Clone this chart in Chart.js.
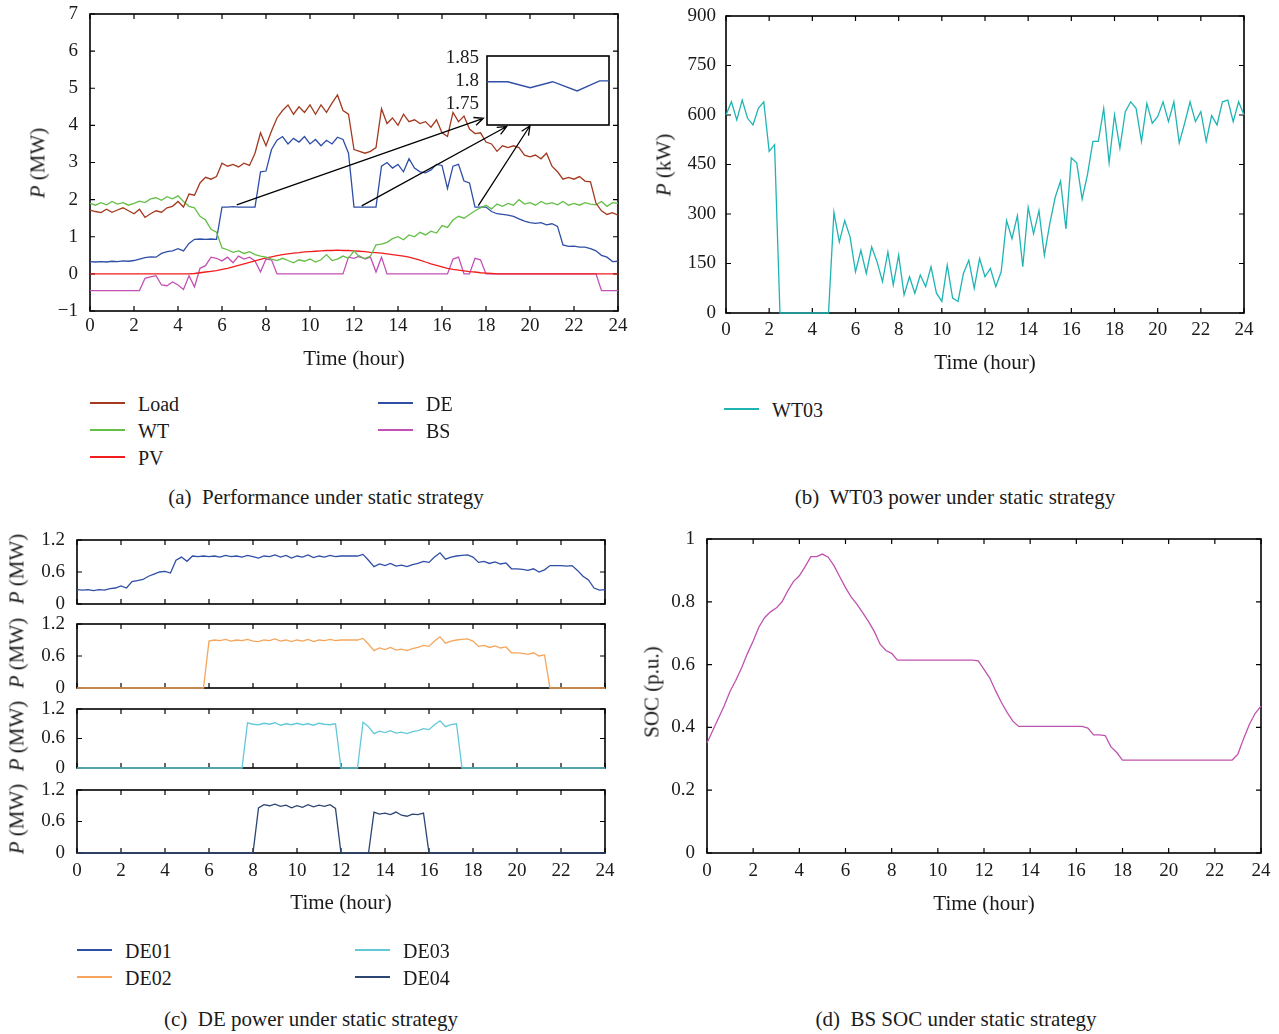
<!DOCTYPE html>
<html>
<head>
<meta charset="utf-8">
<title>Static strategy</title>
<script src="https://cdn.jsdelivr.net/npm/chart.js@4.4.1/dist/chart.umd.min.js"></script>
<style>
  html, body { margin: 0; background: #fff; }
  #page { position: relative; width: 1279px; height: 1034px; overflow: hidden;
          font-family: "Liberation Serif", "DejaVu Serif", serif; color: #1a1a1a; }
  #page canvas { position: absolute; }
  .t { position: absolute; white-space: nowrap; font-size: 20px; line-height: 1; }
  .c { transform: translate(-50%, -50%); }
  .l { transform: translateY(-50%); }
  .v { transform: translate(-50%, -50%) rotate(-90deg); }
  .ax { font-size: 21px; }
  .cap { font-size: 21px; }
  .sw { position: absolute; width: 35px; height: 2px; margin-top: -1px; }
</style>
</head>
<body>
<div id="page"></div>
<script>
// sample times (hour), one value every 15 min
const hours = Array.from({ length: 97 }, (_, i) => i * 0.25);

// (a) performance under static strategy, MW
const loadMW = [1.72, 1.68, 1.65, 1.74, 1.66, 1.72, 1.78, 1.70,
  1.62, 1.74, 1.52, 1.62, 1.70, 1.66, 1.78, 1.82,
  1.95, 1.80, 2.15, 2.12, 2.45, 2.60, 2.55, 2.62,
  2.98, 2.90, 2.95, 2.88, 2.98, 2.92, 3.25, 3.80,
  3.45, 3.85, 4.20, 4.40, 4.55, 4.30, 4.50, 4.35,
  4.55, 4.30, 4.55, 4.35, 4.60, 4.82, 4.40, 4.30,
  3.35, 3.30, 3.25, 3.30, 3.40, 4.45, 4.05, 4.20,
  4.00, 4.30, 4.10, 4.15, 4.05, 4.10, 3.95, 4.15,
  3.80, 3.70, 4.35, 4.10, 4.25, 3.90, 3.78, 3.80,
  3.55, 3.50, 3.30, 3.45, 3.40, 3.45, 3.40, 3.20,
  3.15, 3.20, 3.10, 3.25, 2.90, 2.75, 2.55, 2.60,
  2.55, 2.62, 2.50, 2.48, 1.90, 1.70, 1.60, 1.65,
  1.58];
const wtMW = [1.90, 1.85, 1.92, 1.86, 1.95, 1.88, 1.92, 1.85,
  1.90, 1.96, 1.92, 2.02, 2.05, 1.98, 2.08, 2.02,
  2.10, 1.95, 1.82, 1.78, 1.55, 1.45, 1.20, 1.12,
  0.70, 0.65, 0.58, 0.62, 0.55, 0.60, 0.52, 0.48,
  0.45, 0.40, 0.36, 0.42, 0.36, 0.30, 0.38, 0.34,
  0.40, 0.32, 0.38, 0.52, 0.36, 0.40, 0.48, 0.42,
  0.62, 0.45, 0.42, 0.48, 0.78, 0.80, 0.85, 0.95,
  1.00, 0.92, 1.05, 1.00, 1.12, 1.05, 1.15, 1.10,
  1.30, 1.25, 1.45, 1.55, 1.50, 1.60, 1.70, 1.78,
  1.85, 1.75, 1.88, 1.82, 1.90, 1.85, 2.00, 1.88,
  1.92, 1.85, 1.95, 1.88, 1.92, 1.86, 1.95, 1.85,
  1.90, 1.85, 1.92, 1.88, 1.86, 1.95, 1.82, 1.92,
  1.90];
const pvMW = [0, 0, 0, 0, 0, 0, 0, 0,
  0, 0, 0, 0, 0, 0, 0, 0,
  0, 0, 0, 0.01, 0.03, 0.05, 0.07, 0.09,
  0.12, 0.15, 0.19, 0.23, 0.27, 0.31, 0.35, 0.39,
  0.43, 0.46, 0.49, 0.52, 0.54, 0.56, 0.57, 0.59,
  0.60, 0.61, 0.62, 0.63, 0.63, 0.64, 0.63, 0.63,
  0.62, 0.61, 0.60, 0.58, 0.57, 0.56, 0.54, 0.52,
  0.50, 0.48, 0.45, 0.41, 0.37, 0.32, 0.27, 0.23,
  0.19, 0.15, 0.12, 0.10, 0.08, 0.06, 0.05, 0.03,
  0.02, 0.01, 0, 0, 0, 0, 0, 0,
  0, 0, 0, 0, 0, 0, 0, 0,
  0, 0, 0, 0, 0, 0, 0, 0,
  0];
const deMW = [0.33, 0.32, 0.33, 0.32, 0.34, 0.33, 0.35, 0.34,
  0.36, 0.40, 0.44, 0.46, 0.45, 0.55, 0.60, 0.62,
  0.68, 0.62, 0.82, 0.93, 0.94, 0.93, 0.94, 0.93,
  1.80, 1.80, 1.81, 1.80, 1.80, 1.80, 1.80, 2.75,
  2.77, 3.35, 3.60, 3.70, 3.50, 3.65, 3.55, 3.70,
  3.50, 3.62, 3.45, 3.60, 3.50, 3.68, 3.62, 3.25,
  1.80, 1.80, 1.80, 1.80, 1.80, 2.90, 3.00, 2.85,
  2.95, 2.75, 3.10, 2.85, 2.75, 2.72, 2.80, 2.95,
  2.92, 2.30, 2.90, 2.95, 2.50, 2.45, 1.80, 1.80,
  1.80, 1.68, 1.62, 1.60, 1.58, 1.55, 1.48, 1.42,
  1.38, 1.36, 1.38, 1.32, 1.35, 1.28, 0.78, 0.74,
  0.75, 0.72, 0.72, 0.68, 0.62, 0.50, 0.45, 0.33,
  0.34];
const bsMW = [-0.45, -0.45, -0.45, -0.45, -0.45, -0.45, -0.45, -0.45,
  -0.45, -0.45, -0.12, -0.08, -0.05, -0.30, -0.32, -0.22,
  -0.30, -0.42, -0.05, -0.35, 0.15, 0.22, 0.45, 0.42,
  0.35, 0.45, 0.30, 0.48, 0.40, 0.45, 0.35, 0.05,
  0.40, 0.38, 0, 0, 0, 0, 0, 0,
  0, 0, 0, 0, 0, 0, 0, 0.45,
  0.42, 0.48, 0.40, 0.45, 0.05, 0.45, 0, 0,
  0, 0, 0, 0, 0, 0, 0, 0,
  0, 0, 0.40, 0.45, 0, 0, 0.42, 0.38,
  0, 0, 0, 0, 0, 0, 0, 0,
  0, 0, 0, 0, 0, 0, 0, 0,
  0, 0, 0, 0, 0, -0.45, -0.45, -0.45,
  -0.45];

// zoomed DE detail shown in the inset of (a)
const insetX = [0, 1.1, 2.3, 3.5, 4.8, 6.0, 6.5];
const insetDE = [1.798, 1.798, 1.785, 1.798, 1.778, 1.800, 1.800];
const insetTicks = [1.75, 1.8, 1.85];
// arrows from the DE plateaus to the inset, [hour, MW]
const arrowFrom = [[6.67, 1.86], [12.35, 1.83], [17.65, 1.84]];
const arrowTo = [[17.88, 4.19], [18.94, 3.97], [20.0, 3.99]];

// (b) WT03 power, kW
const wt03kW = [600, 640, 585, 645, 590, 570, 620, 640,
  490, 510, 0, 0, 0, 0, 0, 0,
  0, 0, 0, 0, 305, 215, 280, 230,
  125, 190, 120, 200, 155, 95, 185, 85,
  175, 55, 110, 60, 115, 80, 140, 60,
  35, 145, 45, 35, 120, 160, 75, 165,
  110, 135, 80, 125, 280, 225, 295, 140,
  320, 240, 310, 175, 270, 350, 400, 255,
  470, 455, 345, 420, 520, 520, 620, 455,
  600, 500, 610, 640, 620, 520, 635, 575,
  595, 640, 580, 640, 515, 575, 640, 580,
  610, 520, 598, 570, 640, 645, 580, 640,
  600];

// (c) DE units, MW
const de01 = [0.27, 0.26, 0.27, 0.25, 0.27, 0.26, 0.29, 0.30,
  0.34, 0.30, 0.42, 0.44, 0.46, 0.52, 0.56, 0.60,
  0.61, 0.58, 0.82, 0.88, 0.80, 0.90, 0.89, 0.90,
  0.89, 0.90, 0.88, 0.91, 0.89, 0.90, 0.88, 0.91,
  0.89, 0.86, 0.90, 0.89, 0.92, 0.88, 0.91, 0.86,
  0.90, 0.88, 0.92, 0.87, 0.90, 0.88, 0.91, 0.89,
  0.90, 0.90, 0.90, 0.90, 0.93, 0.82, 0.70, 0.75,
  0.72, 0.76, 0.71, 0.73, 0.70, 0.74, 0.76, 0.80,
  0.78, 0.88, 0.96, 0.84, 0.88, 0.90, 0.91, 0.92,
  0.88, 0.78, 0.80, 0.76, 0.79, 0.75, 0.77, 0.66,
  0.66, 0.65, 0.63, 0.66, 0.60, 0.64, 0.72, 0.72,
  0.72, 0.71, 0.72, 0.63, 0.52, 0.45, 0.30, 0.26,
  0.27];
const de02 = [0, 0, 0, 0, 0, 0, 0, 0,
  0, 0, 0, 0, 0, 0, 0, 0,
  0, 0, 0, 0, 0, 0, 0, 0,
  0.88, 0.90, 0.89, 0.91, 0.88, 0.90, 0.89, 0.91,
  0.88, 0.87, 0.90, 0.89, 0.92, 0.88, 0.90, 0.87,
  0.90, 0.88, 0.91, 0.87, 0.90, 0.89, 0.91, 0.89,
  0.90, 0.90, 0.90, 0.90, 0.93, 0.82, 0.70, 0.75,
  0.72, 0.76, 0.71, 0.73, 0.70, 0.74, 0.76, 0.80,
  0.78, 0.88, 0.96, 0.84, 0.88, 0.90, 0.91, 0.92,
  0.88, 0.78, 0.80, 0.76, 0.79, 0.75, 0.77, 0.66,
  0.66, 0.65, 0.63, 0.66, 0.60, 0.62, 0, 0,
  0, 0, 0, 0, 0, 0, 0, 0,
  0];
const de03 = [0, 0, 0, 0, 0, 0, 0, 0,
  0, 0, 0, 0, 0, 0, 0, 0,
  0, 0, 0, 0, 0, 0, 0, 0,
  0, 0, 0, 0, 0, 0, 0, 0.92,
  0.89, 0.88, 0.91, 0.89, 0.92, 0.87, 0.90, 0.88,
  0.91, 0.88, 0.90, 0.87, 0.91, 0.89, 0.88, 0.90,
  0, 0, 0, 0, 0.93, 0.84, 0.70, 0.75,
  0.72, 0.76, 0.71, 0.73, 0.70, 0.74, 0.76, 0.80,
  0.78, 0.88, 0.96, 0.84, 0.88, 0.90, 0, 0,
  0, 0, 0, 0, 0, 0, 0, 0,
  0, 0, 0, 0, 0, 0, 0, 0,
  0, 0, 0, 0, 0, 0, 0, 0,
  0];
const de04 = [0, 0, 0, 0, 0, 0, 0, 0,
  0, 0, 0, 0, 0, 0, 0, 0,
  0, 0, 0, 0, 0, 0, 0, 0,
  0, 0, 0, 0, 0, 0, 0, 0,
  0, 0.86, 0.92, 0.90, 0.93, 0.89, 0.91, 0.86,
  0.90, 0.87, 0.92, 0.88, 0.91, 0.89, 0.92, 0.85,
  0, 0, 0, 0, 0, 0, 0.78, 0.74,
  0.76, 0.73, 0.78, 0.72, 0.70, 0.74, 0.73, 0.76,
  0, 0, 0, 0, 0, 0, 0, 0,
  0, 0, 0, 0, 0, 0, 0, 0,
  0, 0, 0, 0, 0, 0, 0, 0,
  0, 0, 0, 0, 0, 0, 0, 0,
  0];

// (d) battery state of charge, p.u.
const socPU = [0.35, 0.39, 0.43, 0.47, 0.515, 0.55, 0.59, 0.635,
  0.675, 0.72, 0.75, 0.768, 0.78, 0.80, 0.835, 0.865,
  0.883, 0.912, 0.944, 0.944, 0.952, 0.942, 0.915, 0.88,
  0.845, 0.815, 0.792, 0.765, 0.737, 0.705, 0.665, 0.645,
  0.636, 0.614, 0.614, 0.614, 0.614, 0.614, 0.614, 0.614,
  0.614, 0.614, 0.614, 0.614, 0.614, 0.614, 0.614, 0.612,
  0.585, 0.557, 0.517, 0.48, 0.448, 0.42, 0.403, 0.403,
  0.403, 0.403, 0.403, 0.403, 0.403, 0.403, 0.403, 0.403,
  0.403, 0.403, 0.398, 0.376, 0.376, 0.374, 0.338, 0.32,
  0.296, 0.296, 0.296, 0.296, 0.296, 0.296, 0.296, 0.296,
  0.296, 0.296, 0.296, 0.296, 0.296, 0.296, 0.296, 0.296,
  0.296, 0.296, 0.296, 0.296, 0.315, 0.365, 0.41, 0.445,
  0.468];

const page = document.getElementById('page');
const tickFont = { family: 'Liberation Serif', size: 19 };
const ink = '#1a1a1a';
const PAD_L = 70, PAD_R = 24, PAD_B = 40, PAD_T = 30;

// frame around the plot area, with inward ticks on all four sides
const boxFrame = {
  id: 'boxFrame',
  beforeDraw(chart, args, opts) {
    if (!opts.fill) return;
    const a = chart.chartArea;
    chart.ctx.save();
    chart.ctx.fillStyle = '#fff';
    chart.ctx.fillRect(a.left, a.top, a.right - a.left, a.bottom - a.top);
    chart.ctx.restore();
  },
  beforeDatasetsDraw(chart, args, opts) {
    const { ctx, chartArea: a, scales } = chart;
    ctx.save();
    ctx.strokeStyle = '#000';
    ctx.lineWidth = 1.6;
    ctx.strokeRect(a.left, a.top, a.right - a.left, a.bottom - a.top);
    if (opts.ticks) {
      ctx.lineWidth = 1.2;
      ctx.beginPath();
      for (const t of scales.x.ticks) {
        const px = scales.x.getPixelForValue(t.value);
        ctx.moveTo(px, a.bottom); ctx.lineTo(px, a.bottom - 5);
        ctx.moveTo(px, a.top); ctx.lineTo(px, a.top + 5);
      }
      for (const t of scales.y.ticks) {
        const py = scales.y.getPixelForValue(t.value);
        ctx.moveTo(a.left, py); ctx.lineTo(a.left + 5, py);
        ctx.moveTo(a.right, py); ctx.lineTo(a.right - 5, py);
      }
      ctx.stroke();
    }
    ctx.restore();
  }
};

const zoomArrows = {
  id: 'zoomArrows',
  afterDatasetsDraw(chart) {
    const { ctx, scales: { x, y } } = chart;
    ctx.save();
    ctx.strokeStyle = '#000';
    ctx.lineWidth = 1.3;
    arrowFrom.forEach((p, i) => {
      const x0 = x.getPixelForValue(p[0]), y0 = y.getPixelForValue(p[1]);
      const x1 = x.getPixelForValue(arrowTo[i][0]), y1 = y.getPixelForValue(arrowTo[i][1]);
      const ang = Math.atan2(y1 - y0, x1 - x0);
      ctx.beginPath();
      ctx.moveTo(x0, y0); ctx.lineTo(x1, y1);
      ctx.moveTo(x1 - 10 * Math.cos(ang - 0.42), y1 - 10 * Math.sin(ang - 0.42));
      ctx.lineTo(x1, y1);
      ctx.lineTo(x1 - 10 * Math.cos(ang + 0.42), y1 - 10 * Math.sin(ang + 0.42));
      ctx.stroke();
    });
    ctx.restore();
  }
};

function line(label, vals, color, xs = hours) {
  return {
    label, borderColor: color, backgroundColor: color, borderWidth: 1.3,
    pointRadius: 0, tension: 0, fill: false, clip: 6,
    data: vals.map((v, i) => ({ x: xs[i], y: v }))
  };
}

// box = plot area in page pixels
function makeChart(box, datasets, cfg) {
  const w = box.r - box.l + PAD_L + PAD_R, h = box.b - box.t + PAD_T + PAD_B;
  const cv = document.createElement('canvas');
  cv.width = w; cv.height = h;
  cv.style.left = (box.l - PAD_L) + 'px';
  cv.style.top = (box.t - PAD_T) + 'px';
  cv.style.width = w + 'px'; cv.style.height = h + 'px';
  page.appendChild(cv);
  return new Chart(cv, {
    type: 'line',
    data: { datasets },
    options: {
      responsive: false, animation: false, devicePixelRatio: 1,
      layout: { padding: { left: 0, top: PAD_T, right: PAD_R, bottom: 0 } },
      plugins: {
        legend: { display: false }, tooltip: { enabled: false },
        boxFrame: { ticks: cfg.frameTicks !== false, fill: !!cfg.fill }
      },
      scales: {
        x: {
          type: 'linear', min: cfg.xMin ?? 0, max: cfg.xMax ?? 24,
          grid: { display: false, drawTicks: false }, border: { display: false },
          ticks: { display: cfg.xLabels !== false, stepSize: cfg.xStep ?? 2, padding: cfg.xPad ?? 6,
                   font: tickFont, color: ink, maxRotation: 0, autoSkip: false },
          afterFit: s => { s.height = PAD_B; }
        },
        y: {
          min: cfg.yMin, max: cfg.yMax,
          grid: { display: false, drawTicks: false }, border: { display: false },
          ticks: { stepSize: cfg.yStep, padding: cfg.yPad ?? 12, font: tickFont, color: ink,
                   autoSkip: false, callback: cfg.yFmt },
          afterBuildTicks: cfg.yTicks ? s => { s.ticks = cfg.yTicks.map(v => ({ value: v })); } : undefined,
          afterFit: s => { s.width = PAD_L; }
        }
      }
    },
    plugins: [boxFrame, ...(cfg.plugins || [])]
  });
}

function text(html, x, y, cls, extra) {
  const d = document.createElement('div');
  d.className = 't ' + cls + (extra ? ' ' + extra : '');
  d.style.left = x + 'px'; d.style.top = y + 'px';
  d.innerHTML = html;
  page.appendChild(d);
}

function legendItem(ds, x, y) {
  const s = document.createElement('div');
  s.className = 'sw';
  s.style.left = x + 'px'; s.style.top = y + 'px';
  s.style.background = ds.borderColor;
  page.appendChild(s);
  text(ds.label, x + 48, y + 1, 'l');
}

const signed = v => (v < 0 ? '\u2212' + (-v) : String(v));
const short = v => String(+v.toFixed(2));

// ---- (a) performance under static strategy
const aSets = [
  line('Load', loadMW, '#a3391f'),
  line('WT', wtMW, '#64bf47'),
  line('PV', pvMW, '#f21d1d'),
  line('DE', deMW, '#2f4ea6'),
  line('BS', bsMW, '#c450b5')
];
makeChart({ l: 90, t: 14, r: 618, b: 311 }, aSets,
  { yMin: -1, yMax: 7, yStep: 1, yFmt: signed, xPad: 4, plugins: [zoomArrows] });
makeChart({ l: 487, t: 56, r: 609, b: 125 }, [line('DE', insetDE, '#2f4ea6', insetX)],
  { xMin: 0, xMax: 6.5, xStep: 1, xLabels: false, yMin: 1.704, yMax: 1.854,
    yTicks: insetTicks, yFmt: short, yPad: 8, frameTicks: false, fill: true });
text('<i>P</i> (MW)', 38, 163, 'v', 'ax');
text('Time (hour)', 354, 358, 'c', 'ax');
legendItem(aSets[0], 90, 403);
legendItem(aSets[1], 90, 430);
legendItem(aSets[2], 90, 457);
legendItem(aSets[3], 378, 403);
legendItem(aSets[4], 378, 430);
text('(a)&nbsp; Performance under static strategy', 326, 497, 'c', 'cap');

// ---- (b) WT03 power
const bSets = [line('WT03', wt03kW, '#1fb4b4')];
makeChart({ l: 726, t: 16, r: 1244, b: 313 }, bSets,
  { yMin: 0, yMax: 900, yStep: 150, yPad: 10, xPad: 6 });
text('<i>P</i> (kW)', 664, 165, 'v', 'ax');
text('Time (hour)', 985, 362, 'c', 'ax');
legendItem(bSets[0], 724, 409);
text('(b)&nbsp; WT03 power under static strategy', 955, 497, 'c', 'cap');

// ---- (c) DE power, one strip per unit
const cSets = [
  line('DE01', de01, '#2f4ea6'),
  line('DE02', de02, '#f5a65c'),
  line('DE03', de03, '#63c9d9'),
  line('DE04', de04, '#2c4573')
];
const stripTop = [540, 624, 709, 790];
const stripBottom = [604, 688, 768, 853];
cSets.forEach((ds, i) => {
  makeChart({ l: 77, t: stripTop[i], r: 605, b: stripBottom[i] }, [ds],
    { yMin: 0, yMax: 1.2, yStep: 0.6, yFmt: short, xLabels: i === cSets.length - 1, xPad: 7 });
  text('<i>P</i> (MW)', 17, (stripTop[i] + stripBottom[i]) / 2 - 3, 'v', 'ax');
});
text('Time (hour)', 341, 902, 'c', 'ax');
legendItem(cSets[0], 77, 950);
legendItem(cSets[1], 77, 977);
legendItem(cSets[2], 355, 950);
legendItem(cSets[3], 355, 977);
text('(c)&nbsp; DE power under static strategy', 311, 1019, 'c', 'cap');

// ---- (d) BS state of charge
makeChart({ l: 707, t: 539, r: 1261, b: 853 }, [line('SOC', socPU, '#c052b0')],
  { yMin: 0, yMax: 1, yStep: 0.2, yFmt: short, xPad: 7 });
text('SOC (p.u.)', 652, 692, 'v', 'ax');
text('Time (hour)', 984, 903, 'c', 'ax');
text('(d)&nbsp; BS SOC under static strategy', 956, 1019, 'c', 'cap');
</script>
</body>
</html>
